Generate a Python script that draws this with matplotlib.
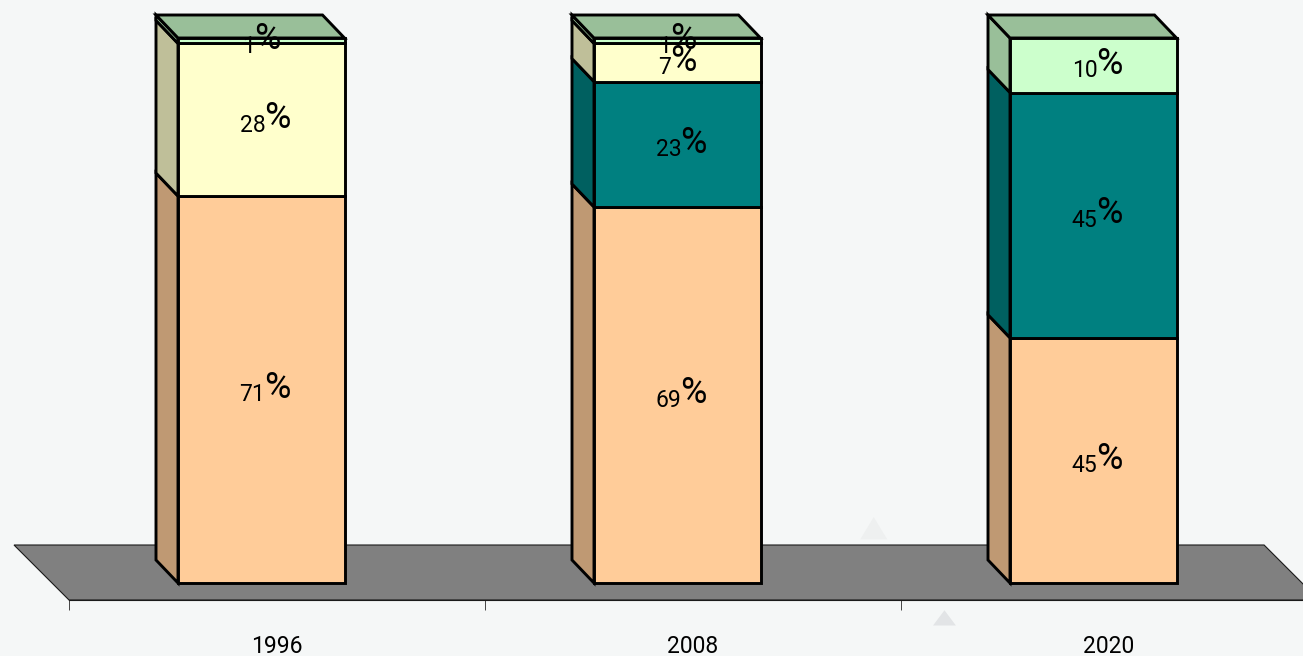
import matplotlib
matplotlib.use("Agg")
import matplotlib.pyplot as plt
from matplotlib.patches import Polygon
from matplotlib.colors import to_rgb

years = ["1996", "2008", "2020"]
# stacked from the bottom up
orange_vals = [71, 69, 45]
teal_vals = [0, 23, 45]
yellow_vals = [28, 7, 0]
green_vals = [1, 1, 10]

series = [
    (orange_vals, "#FFCC99"),
    (teal_vals, "#008080"),
    (yellow_vals, "#FFFFCC"),
    (green_vals, "#CCFFCC"),
]

W, H = 1303, 656
px_x = 416.0  # pixels per category slot
px_y = 5.45   # pixels per percent
bg = "#F5F7F7"
font = "Roboto"


def shade(col):
    return tuple(c * 0.75 for c in to_rgb(col))


fig = plt.figure(figsize=(W / 100, H / 100), dpi=100, facecolor=bg)
ax = fig.add_axes([69 / W, (H - 600) / H, (W - 69) / W, 600 / H])
ax.set_facecolor("none")
ax.set_xlim(0, (W - 69) / px_x)
ax.set_ylim(-17 / px_y, 583 / px_y)

bar_x = 109 / px_x
bar_w = 166.5 / px_x
dx = 22 / px_x
dy = 23 / px_y

# floor
fdx = 55 / px_x
fdy = 55 / px_y
y0 = -17 / px_y
ax.add_patch(Polygon([(0, y0), (-fdx, y0 + fdy), (3.005 - fdx, y0 + fdy), (3.005, y0)],
                     facecolor="#808080", edgecolor="#1a1a1a", linewidth=0.8,
                     clip_on=False, zorder=1))

# faint triangles in the background
ax.add_patch(Polygon([(1.902, 8.0), (1.967, 8.0), (1.9345, 12.1)], facecolor="#EEF0F0",
                     edgecolor="none", clip_on=False, zorder=0.5))
ax.add_patch(Polygon([(2.077, -7.8), (2.132, -7.8), (2.1045, -5.0)], facecolor="#E2E4E6",
                     edgecolor="none", clip_on=False, zorder=0.5))

for i, year in enumerate(years):
    x0 = i + bar_x
    x1 = x0 + bar_w
    base = 0
    top_col = None
    for vals, col in series:
        v = vals[i]
        if v == 0:
            continue
        ax.bar(x0, v, bottom=base, width=bar_w, align="edge", facecolor=col,
               edgecolor="black", linewidth=2.1, zorder=3, clip_on=False)
        ax.add_patch(Polygon([(x0, base), (x0 - dx, base + dy), (x0 - dx, base + v + dy), (x0, base + v)],
                             facecolor=shade(col), edgecolor="black", linewidth=2.1,
                             clip_on=False, zorder=2))
        mid = base + v / 2
        # digits and the bigger % sign are two texts, joined at the same spot
        join = -4.3 + 7.2 * (len(str(v)) - 1)
        ax.annotate(str(v), (x0 + bar_w / 2, mid), xytext=(join, -8.5), textcoords="offset points",
                    ha="right", va="baseline", fontsize=16.5, family=font, zorder=5)
        ax.annotate("%", (x0 + bar_w / 2, mid), xytext=(join - 0.5, -6), textcoords="offset points",
                    ha="left", va="baseline", fontsize=26, family=font, zorder=5)
        base += v
        top_col = col
    ax.add_patch(Polygon([(x0, base), (x0 - dx, base + dy), (x1 - dx, base + dy), (x1, base)],
                         facecolor=shade(top_col), edgecolor="black", linewidth=2.1,
                         clip_on=False, zorder=2.5))

for s in ["top", "left", "right"]:
    ax.spines[s].set_visible(False)
ax.spines["bottom"].set_color("#1a1a1a")
ax.spines["bottom"].set_linewidth(0.8)
ax.set_yticks([])
ax.set_xticks([0, 1, 2])
ax.set_xticklabels([])
ax.set_xticks([0.5, 1.5, 2.5], labels=years, minor=True)
ax.tick_params(axis="x", which="major", length=7, width=0.7, color="#444444")
ax.tick_params(axis="x", which="minor", length=0, pad=25, labelsize=16.5)
for lab in ax.get_xticklabels(minor=True):
    lab.set_family(font)

fig.savefig("out.png", dpi=100, facecolor=bg)
